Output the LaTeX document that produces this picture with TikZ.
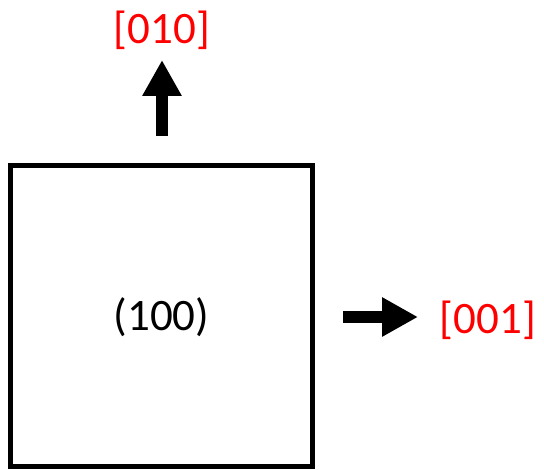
\documentclass[tikz,border=0pt]{standalone}
\usepackage{fontspec}
\setmainfont{Carlito}
\usetikzlibrary{arrows.meta}

\begin{document}
\begin{tikzpicture}[x=1pt, y=1pt,
    plane/.style={draw=black, line width=5pt, minimum width=302pt, minimum height=301pt, text depth=3pt, font=\fontsize{45}{50}\selectfont},
    dirlabel/.style={text=red, font=\fontsize{45}{50}\selectfont},
    dirarrow/.style={line width=12pt, -{Triangle[width=37pt, length=36pt]}}]
\useasboundingbox (0,0) rectangle (544,469);

\node[plane] (face) at (161.5,153) {(100)};

% direction labels
\node[dirlabel] (up) at (162,439) {[010]};
\node[dirlabel] (right) at (488,149) {[001]};

\coordinate (upstart) at (162,333);
\coordinate (uptip) at (162,409);
\coordinate (rstart) at (343,152);
\coordinate (rtip) at (418,152);

\draw[dirarrow] (upstart) -- (uptip);
\draw[dirarrow] (rstart) -- (rtip);
\end{tikzpicture}
\end{document}
